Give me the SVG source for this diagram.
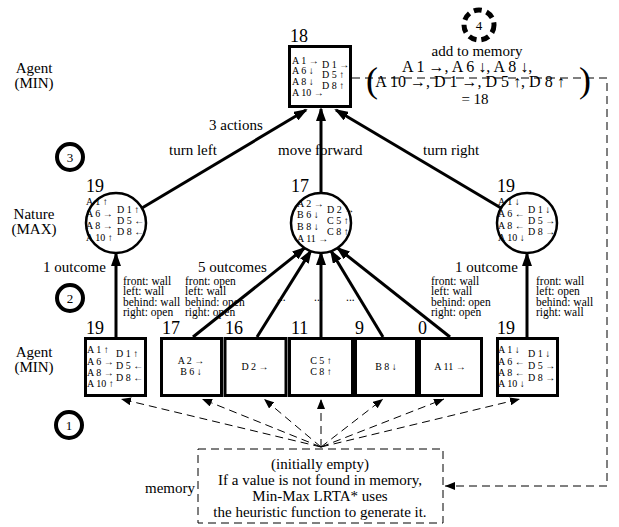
<svg xmlns="http://www.w3.org/2000/svg" width="619" height="527" viewBox="0 0 619 527">
<style>
text{font-family:"Liberation Serif","Times New Roman",serif;fill:#000}
.lbl{font-size:15px}
.val{font-size:18px}
.cell{font-size:10px}
.obs{font-size:11.5px}
.num{font-size:13px}
.memo{font-size:16px;text-anchor:middle}
.node{fill:#fff;stroke:#000;stroke-width:3}
.nat{fill:#fff;stroke:#000;stroke-width:2.5}
.edge{fill:none;stroke:#000;stroke-width:3}
.dash{fill:none;stroke:#000;stroke-width:1;stroke-dasharray:8 5}
.mid{text-anchor:middle}
.end{text-anchor:end}
</style>
<defs>
<marker id="ah" viewBox="0 0 14 10" refX="12" refY="5" markerWidth="14" markerHeight="10" markerUnits="userSpaceOnUse" orient="auto"><path d="M0,0 L14,5 L0,10 z" fill="#000"/></marker>
<marker id="ahs" viewBox="0 0 10 8" refX="10" refY="4" markerWidth="10" markerHeight="8" markerUnits="userSpaceOnUse" orient="auto"><path d="M0,0 L10,4 L0,8 z" fill="#000"/></marker>
</defs>

<g id="connectors">
<line class="edge" x1="142" y1="208" x2="306" y2="110" marker-end="url(#ah)"/>
<line class="edge" x1="321" y1="193" x2="321" y2="109" marker-end="url(#ah)"/>
<line class="edge" x1="501" y1="208" x2="336" y2="110" marker-end="url(#ah)"/>
<line class="edge" x1="116" y1="337" x2="116" y2="254" marker-end="url(#ah)"/>
<line class="edge" x1="527" y1="337" x2="527" y2="254" marker-end="url(#ah)"/>
<line class="edge" x1="193" y1="337" x2="304.6" y2="248" marker-end="url(#ah)"/>
<line class="edge" x1="257" y1="337" x2="310.8" y2="251" marker-end="url(#ah)"/>
<line class="edge" x1="321" y1="337" x2="321" y2="253" marker-end="url(#ah)"/>
<line class="edge" x1="383" y1="337" x2="331" y2="251" marker-end="url(#ah)"/>
<line class="edge" x1="450" y1="337" x2="337.5" y2="248" marker-end="url(#ah)"/>
<line class="dash" x1="321" y1="447" x2="121" y2="399" marker-end="url(#ahs)"/>
<line class="dash" x1="321" y1="447" x2="202" y2="399" marker-end="url(#ahs)"/>
<line class="dash" x1="321" y1="447" x2="264" y2="399" marker-end="url(#ahs)"/>
<line class="dash" x1="321" y1="447" x2="321" y2="399" marker-end="url(#ahs)"/>
<line class="dash" x1="321" y1="447" x2="383" y2="399" marker-end="url(#ahs)"/>
<line class="dash" x1="321" y1="447" x2="444" y2="399" marker-end="url(#ahs)"/>
<line class="dash" x1="321" y1="447" x2="520" y2="399" marker-end="url(#ahs)"/>
<path class="dash" d="M352,78 H607 V486 H445" marker-end="url(#ahs)"/>
<text class="lbl" x="209" y="130">3 actions</text>
<text class="lbl" x="169" y="155">turn left</text>
<text class="lbl" x="278" y="155">move forward</text>
<text class="lbl" x="423" y="155">turn right</text>
<text class="lbl" x="43" y="272">1 outcome</text>
<text class="lbl" x="198" y="272">5 outcomes</text>
<text class="lbl" x="455" y="272">1 outcome</text>
<text class="obs" x="277" y="301">...</text>
<text class="obs" x="314" y="301">...</text>
<text class="obs" x="346" y="301">...</text>
</g>

<g id="labels">
<text class="lbl mid" x="34" y="73">Agent</text>
<text class="lbl mid" x="34" y="88">(MIN)</text>
<text class="lbl mid" x="34" y="219">Nature</text>
<text class="lbl mid" x="34" y="234">(MAX)</text>
<text class="lbl mid" x="34" y="357">Agent</text>
<text class="lbl mid" x="34" y="372">(MIN)</text>
</g>

<g id="step1"><circle cx="69" cy="425" r="13" fill="#fff" stroke="#000" stroke-width="4"/><text class="num mid" x="69" y="430">1</text></g>
<g id="step2"><circle cx="70" cy="298" r="13" fill="#fff" stroke="#000" stroke-width="4"/><text class="num mid" x="70" y="303">2</text></g>
<g id="step3"><circle cx="70" cy="157" r="13" fill="#fff" stroke="#000" stroke-width="4"/><text class="num mid" x="70" y="162">3</text></g>
<g id="step4"><circle cx="479" cy="25" r="15" fill="#fff" stroke="#000" stroke-width="5" stroke-dasharray="8 5"/><text class="num mid" x="479" y="30">4</text></g>

<g id="root">
<text class="val" x="290" y="42">18</text>
<rect class="node" x="289.5" y="46.5" width="61" height="60"/>
<text class="cell" x="292" y="64">A 1 →</text>
<text class="cell" x="292" y="74">A 6 ↓</text>
<text class="cell" x="292" y="85">A 8 ↓</text>
<text class="cell" x="292" y="96">A 10 →</text>
<text class="cell" x="322" y="68">D 1 →</text>
<text class="cell" x="322" y="78">D 5 ↑</text>
<text class="cell" x="322" y="89">D 8 ↑</text>
</g>

<g id="memo-note">
<text class="lbl mid" x="477" y="56">add to memory</text>
<text class="memo" x="467" y="72">A 1 →, A 6 ↓,  A 8 ↓,</text>
<text class="memo" x="470" y="87">A 10 →,  D 1 →,  D 5 ↑,  D 8 ↑</text>
<text style="font-size:36px" x="366" y="92">(</text>
<text style="font-size:36px" x="579" y="92">)</text>
<text class="lbl mid" x="475" y="104">= 18</text>
</g>

<g id="nat-left">
<text class="val" x="86" y="192">19</text>
<circle class="nat" cx="116" cy="223" r="30"/>
<text class="cell" x="86" y="205">A 1 ↑</text>
<text class="cell" x="86" y="217">A 6 →</text>
<text class="cell" x="86" y="229">A 8 →</text>
<text class="cell" x="86" y="241">A 10 ↑</text>
<text class="cell" x="117" y="213">D 1 ↑</text>
<text class="cell" x="117" y="224">D 5 ←</text>
<text class="cell" x="117" y="235">D 8 ←</text>
</g>

<g id="nat-mid">
<text class="val" x="291" y="192">17</text>
<circle class="nat" cx="321" cy="223" r="30"/>
<text class="cell" x="297" y="207">A 2 →</text>
<text class="cell" x="297" y="218">B 6 ↓</text>
<text class="cell" x="297" y="230">B 8 ↓</text>
<text class="cell" x="297" y="242">A 11 →</text>
<text class="cell" x="327" y="213">D 2 →</text>
<text class="cell" x="327" y="224">C 5 ↑</text>
<text class="cell" x="327" y="235">C 8 ↑</text>
</g>

<g id="nat-right">
<text class="val" x="497" y="192">19</text>
<circle class="nat" cx="527" cy="223" r="30"/>
<text class="cell" x="498" y="205">A 1 ↓</text>
<text class="cell" x="498" y="217">A 6 ←</text>
<text class="cell" x="498" y="229">A 8 ←</text>
<text class="cell" x="498" y="241">A 10 ↓</text>
<text class="cell" x="528" y="213">D 1 ↓</text>
<text class="cell" x="528" y="224">D 5 →</text>
<text class="cell" x="528" y="235">D 8 →</text>
</g>

<g id="obs">
<text class="obs" x="123" y="284.5">front: wall</text>
<text class="obs" x="123" y="295">left: wall</text>
<text class="obs" x="123" y="305.5">behind: wall</text>
<text class="obs" x="123" y="316">right: open</text>
<text class="obs" x="185" y="284.5">front: open</text>
<text class="obs" x="185" y="295">left: wall</text>
<text class="obs" x="185" y="305.5">behind: open</text>
<text class="obs" x="185" y="316">right: open</text>
<text class="obs" x="431" y="284.5">front: wall</text>
<text class="obs" x="431" y="295">left: wall</text>
<text class="obs" x="431" y="305.5">behind: open</text>
<text class="obs" x="431" y="316">right: open</text>
<text class="obs" x="536" y="284.5">front: wall</text>
<text class="obs" x="536" y="295">left: open</text>
<text class="obs" x="536" y="305.5">behind: wall</text>
<text class="obs" x="536" y="316">right: wall</text>
</g>

<g id="leaf-left">
<text class="val" x="86" y="334">19</text>
<rect class="node" x="85.5" y="338.5" width="60" height="57"/>
<text class="cell" x="87" y="353">A 1 ↑</text>
<text class="cell" x="87" y="365">A 6 →</text>
<text class="cell" x="87" y="376">A 8 →</text>
<text class="cell" x="87" y="387">A 10 ↑</text>
<text class="cell" x="116" y="357">D 1 ↑</text>
<text class="cell" x="116" y="369">D 5 ←</text>
<text class="cell" x="116" y="381">D 8 ←</text>
</g>

<g id="leaf-17">
<text class="val" x="162" y="334">17</text>
<rect class="node" x="161.5" y="338.5" width="60" height="57"/>
<text class="cell mid" x="191" y="364">A 2 →</text>
<text class="cell mid" x="191" y="375">B 6 ↓</text>
</g>
<g id="leaf-16">
<text class="val" x="225" y="334">16</text>
<rect class="node" x="225" y="338.5" width="61" height="57"/>
<text class="cell mid" x="255" y="370">D 2 →</text>
</g>
<g id="leaf-11">
<text class="val" x="291" y="334">11</text>
<rect class="node" x="289.5" y="338.5" width="63" height="57"/>
<text class="cell mid" x="321" y="364">C 5 ↑</text>
<text class="cell mid" x="321" y="375">C 8 ↑</text>
</g>
<g id="leaf-9">
<text class="val" x="355" y="334">9</text>
<rect class="node" x="355.5" y="338.5" width="61" height="57"/>
<text class="cell mid" x="386" y="370">B 8 ↓</text>
</g>
<g id="leaf-0">
<text class="val" x="418" y="334">0</text>
<rect class="node" x="419.5" y="338.5" width="62" height="57"/>
<text class="cell mid" x="450" y="370">A 11 →</text>
</g>

<g id="leaf-right">
<text class="val" x="497" y="334">19</text>
<rect class="node" x="497.5" y="338.5" width="60" height="57"/>
<text class="cell" x="498" y="353">A 1 ↓</text>
<text class="cell" x="498" y="365">A 6 ←</text>
<text class="cell" x="498" y="376">A 8 ←</text>
<text class="cell" x="498" y="387">A 10 ↓</text>
<text class="cell" x="528" y="357">D 1 ↓</text>
<text class="cell" x="528" y="369">D 5 →</text>
<text class="cell" x="528" y="381">D 8 →</text>
</g>

<g id="memory">
<rect x="198" y="449" width="245" height="74" fill="none" stroke="#000" stroke-width="1" stroke-dasharray="8 5"/>
<text class="lbl end" x="195" y="493">memory</text>
<text class="lbl mid" x="320" y="469">(initially empty)</text>
<text class="lbl mid" x="320" y="485">If a value is not found in memory,</text>
<text class="lbl mid" x="320" y="501">Min-Max LRTA* uses</text>
<text class="lbl mid" x="320" y="517">the heuristic function to generate it.</text>
</g>
</svg>
